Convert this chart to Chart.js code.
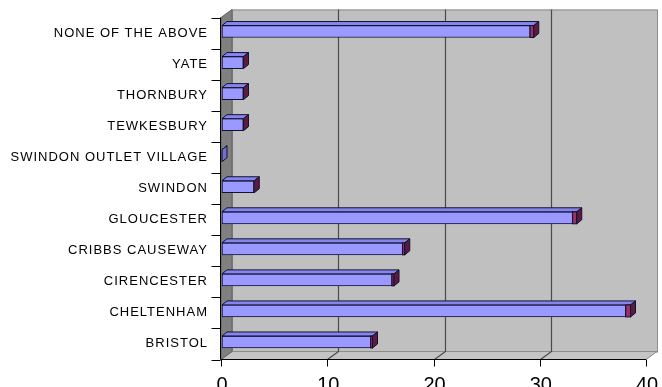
<!DOCTYPE html>
<html>
<head>
<meta charset="utf-8">
<script src="https://cdn.jsdelivr.net/npm/chart.js@4/dist/chart.umd.min.js"></script>
<style>
  html, body { margin: 0; padding: 0; background: #ffffff; }
  #wrap { width: 662px; height: 387px; }
</style>
</head>
<body>
<div id="wrap"><canvas id="chart" width="662" height="387"></canvas></div>
<script>
// Survey answers: where people go shopping (counts per location)
const locations = [
  'BRISTOL', 'CHELTENHAM', 'CIRENCESTER', 'CRIBBS CAUSEWAY', 'GLOUCESTER',
  'SWINDON', 'SWINDON OUTLET VILLAGE', 'TEWKESBURY', 'THORNBURY', 'YATE',
  'NONE OF THE ABOVE'
];
const responses = [14, 38, 16, 17, 33, 3, 0, 2, 2, 2, 29];
const valueTicks = [0, 10, 20, 30, 40];

const FONT = "'Liberation Sans', Arial, sans-serif";

// Draws the Excel-style 3-D box: back wall, side wall, floor, gridlines,
// axes, and the top / end faces of every bar.
const boxPlugin = {
  id: 'box3d',
  beforeDraw(chart) {
    // category labels are set with slightly open tracking
    const y = chart.scales.y;
    if (y && !y._tracked) {
      const draw = y.drawLabels.bind(y);
      y.drawLabels = function (area) {
        this.ctx.save();
        this.ctx.letterSpacing = '1px';
        draw(area);
        this.ctx.restore();
      };
      y._tracked = true;
    }
  },
  beforeDatasetsDraw(chart) {
    const { ctx, chartArea: a, scales: { x } } = chart;
    const dx = 11, dy = -8;
    const vMax = valueTicks[valueTicks.length - 1];
    const x0 = x.getPixelForValue(valueTicks[0]) - 1;
    const x1 = x.getPixelForValue(vMax) - 1;
    const yT = a.top + 1.5, yF = a.bottom + 2;
    ctx.save();

    // back wall
    ctx.fillStyle = '#c0c0c0';
    ctx.fillRect(x0 + dx, yT + dy, x1 - x0, yF - yT);
    ctx.strokeStyle = '#8c8c8c';
    ctx.lineWidth = 1;
    ctx.strokeRect(x0 + dx + 0.5, yT + dy + 0.5, x1 - x0, yF - yT);

    // floor
    ctx.beginPath();
    ctx.moveTo(x0, yF); ctx.lineTo(x0 + dx, yF + dy);
    ctx.lineTo(x1 + dx, yF + dy); ctx.lineTo(x1, yF); ctx.closePath();
    ctx.fillStyle = '#c4c4c4'; ctx.fill();
    ctx.strokeStyle = '#8c8c8c'; ctx.stroke();

    // side wall
    ctx.beginPath();
    ctx.moveTo(x0, yT); ctx.lineTo(x0 + dx, yT + dy);
    ctx.lineTo(x0 + dx, yF + dy); ctx.lineTo(x0, yF); ctx.closePath();
    ctx.fillStyle = '#808080'; ctx.fill();
    ctx.strokeStyle = '#606060'; ctx.stroke();

    // value gridlines on the wall and across the floor
    ctx.strokeStyle = '#4a4a4a';
    ctx.lineWidth = 1.2;
    valueTicks.slice(1, -1).forEach(v => {
      const gx = Math.round(x.getPixelForValue(v) - 1 + dx) + 0.5;
      ctx.beginPath();
      ctx.moveTo(gx, yT + dy); ctx.lineTo(gx, yF + dy);
      ctx.lineTo(gx - dx, yF);
      ctx.stroke();
    });

    // axes
    ctx.strokeStyle = '#000000';
    ctx.lineWidth = 1;
    const ax = Math.round(x0) - 0.5;
    ctx.beginPath();
    ctx.moveTo(ax, yT); ctx.lineTo(ax, yF);
    ctx.moveTo(ax, yF); ctx.lineTo(x1, yF);
    const n = locations.length;
    for (let k = 0; k <= n; k++) {
      const ty = Math.round(yT + k * (yF - yT) / n) + 0.5;
      ctx.moveTo(ax - 9, ty); ctx.lineTo(ax, ty);
    }
    valueTicks.forEach(v => {
      const tx = Math.round(x.getPixelForValue(v) - 1) + 0.5;
      ctx.moveTo(tx, yF); ctx.lineTo(tx, yF + 7);
    });
    ctx.stroke();
    ctx.restore();
  },
  afterDatasetsDraw(chart) {
    const { ctx, scales: { x } } = chart;
    const meta = chart.getDatasetMeta(0);
    const span = x.getPixelForValue(valueTicks[valueTicks.length - 1]) - x.getPixelForValue(0);
    const bdx = 5, bdy = -4;
    ctx.save();
    ctx.lineWidth = 1;
    ctx.strokeStyle = '#111133';
    meta.data.forEach(bar => {
      const p = bar.getProps(['x', 'y', 'base', 'height'], true);
      const top = p.y - p.height / 2, bot = p.y + p.height / 2;
      const len = p.x - p.base;
      const cap = len > 1 ? Math.max(0, (len / span) * 5) : 0;
      const xe = p.x + cap;
      // top face
      ctx.beginPath();
      ctx.moveTo(p.base, top); ctx.lineTo(p.base + bdx, top + bdy);
      ctx.lineTo(xe + bdx, top + bdy); ctx.lineTo(xe, top); ctx.closePath();
      ctx.fillStyle = '#8585ee'; ctx.fill(); ctx.stroke();
      // visible strip of the end cap
      if (cap > 0.5) {
        ctx.fillStyle = '#993366';
        ctx.fillRect(p.x, top, cap, p.height);
        ctx.strokeRect(p.x, top, cap, p.height);
      }
      // end face
      ctx.beginPath();
      ctx.moveTo(xe, top); ctx.lineTo(xe + bdx, top + bdy);
      ctx.lineTo(xe + bdx, bot + bdy); ctx.lineTo(xe, bot); ctx.closePath();
      ctx.fillStyle = len > 1 ? '#5e1a3e' : '#7070c8';
      ctx.fill(); ctx.stroke();
    });
    ctx.restore();
  }
};

// Keep the plot box fixed: no extra room reserved for overhanging labels
function noOverhang(s) {
  s.paddingLeft = 0; s.paddingRight = 0; s.paddingTop = 0; s.paddingBottom = 0;
}

new Chart(document.getElementById('chart'), {
  type: 'bar',
  data: {
    labels: locations,
    datasets: [{
      data: responses,
      backgroundColor: '#9999ff',
      borderColor: '#111133',
      borderWidth: 1,
      borderSkipped: false,
      barThickness: 12
    }]
  },
  options: {
    indexAxis: 'y',
    responsive: false,
    animation: false,
    layout: { padding: { top: 16, right: 15, left: 0, bottom: 0 } },
    plugins: { legend: { display: false }, tooltip: { enabled: false } },
    scales: {
      x: {
        min: 0, max: 40,
        afterBuildTicks: s => { s.ticks = valueTicks.map(v => ({ value: v })); },
        afterFit: s => { s.height = 29.5; noOverhang(s); },
        grid: { display: false, drawTicks: false },
        border: { display: false },
        ticks: { color: '#000', padding: 16, font: { family: FONT, size: 20 } }
      },
      y: {
        reverse: true,
        afterFit: s => { s.width = 222; noOverhang(s); },
        grid: { display: false, drawTicks: false },
        border: { display: false },
        ticks: {
          color: '#000', padding: 14, labelOffset: 1.5, autoSkip: false,
          font: { family: FONT, size: 13 }
        }
      }
    }
  },
  plugins: [boxPlugin]
});
</script>
</body>
</html>
